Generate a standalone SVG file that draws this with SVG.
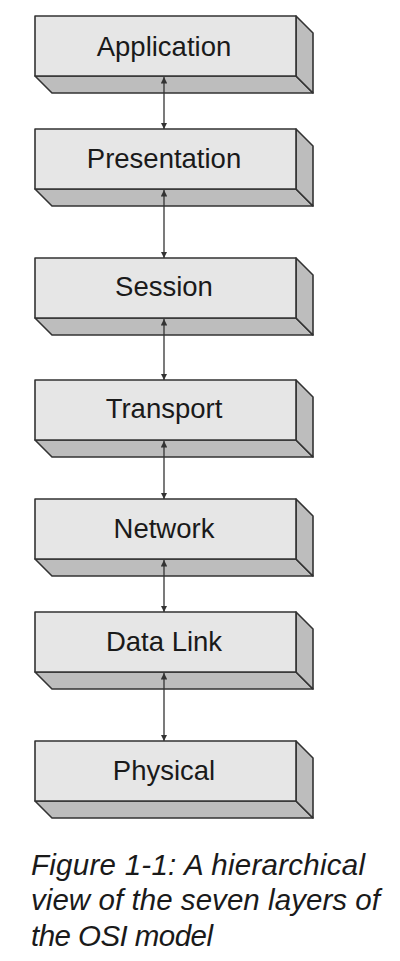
<svg xmlns="http://www.w3.org/2000/svg" width="400" height="961" viewBox="0 0 400 961">
<defs>
<style>
.front{fill:#e6e6e6;stroke:#333;stroke-width:1.6;stroke-linejoin:round}
.shade{fill:#bdbdbd;stroke:#333;stroke-width:1.6;stroke-linejoin:round}
.lbl{font-family:"Liberation Sans",Arial,sans-serif;font-size:27.5px;fill:#1a1a1a;text-anchor:middle}
.cap{font-family:"Liberation Sans",Arial,sans-serif;font-style:italic;font-size:29.5px;fill:#1a1a1a}
.conn{stroke:#333;stroke-width:1.3;fill:none;marker-start:url(#ah);marker-end:url(#ah)}
</style>
<marker id="ah" viewBox="0 0 10 10" refX="10" refY="5" markerWidth="6.5" markerHeight="6.5" markerUnits="userSpaceOnUse" orient="auto-start-reverse">
<path d="M0,0 L10,5 L0,10 z" fill="#333"/>
</marker>
</defs>
<rect width="400" height="961" fill="#fff"/>

<g id="application">
<polygon class="shade" points="35,76 296,76 313,93 52,93"/>
<polygon class="shade" points="296,16 313,33 313,93 296,76"/>
<rect class="front" x="35" y="16" width="261" height="60"/>
<text class="lbl" x="164" y="56">Application</text>
</g>
<g id="presentation">
<polygon class="shade" points="35,189 296,189 313,206 52,206"/>
<polygon class="shade" points="296,129 313,146 313,206 296,189"/>
<rect class="front" x="35" y="129" width="261" height="60"/>
<text class="lbl" x="164" y="168">Presentation</text>
</g>
<g id="session">
<polygon class="shade" points="35,318 296,318 313,335 52,335"/>
<polygon class="shade" points="296,258 313,275 313,335 296,318"/>
<rect class="front" x="35" y="258" width="261" height="60"/>
<text class="lbl" x="164" y="296">Session</text>
</g>
<g id="transport">
<polygon class="shade" points="35,440 296,440 313,457 52,457"/>
<polygon class="shade" points="296,380 313,397 313,457 296,440"/>
<rect class="front" x="35" y="380" width="261" height="60"/>
<text class="lbl" x="164" y="418">Transport</text>
</g>
<g id="network">
<polygon class="shade" points="35,559 296,559 313,576 52,576"/>
<polygon class="shade" points="296,499 313,516 313,576 296,559"/>
<rect class="front" x="35" y="499" width="261" height="60"/>
<text class="lbl" x="164" y="538">Network</text>
</g>
<g id="datalink">
<polygon class="shade" points="35,672 296,672 313,689 52,689"/>
<polygon class="shade" points="296,612 313,629 313,689 296,672"/>
<rect class="front" x="35" y="612" width="261" height="60"/>
<text class="lbl" x="164" y="651">Data Link</text>
</g>
<g id="physical">
<polygon class="shade" points="35,801 296,801 313,818 52,818"/>
<polygon class="shade" points="296,741 313,758 313,818 296,801"/>
<rect class="front" x="35" y="741" width="261" height="60"/>
<text class="lbl" x="164" y="780">Physical</text>
</g>

<g id="connectors">
<line class="conn" x1="164" y1="77" x2="164" y2="129"/>
<line class="conn" x1="164" y1="190" x2="164" y2="258"/>
<line class="conn" x1="164" y1="319" x2="164" y2="380"/>
<line class="conn" x1="164" y1="441" x2="164" y2="499"/>
<line class="conn" x1="164" y1="560" x2="164" y2="612"/>
<line class="conn" x1="164" y1="673" x2="164" y2="741"/>
</g>

<g id="caption">
<text class="cap" x="31" y="875" textLength="334">Figure 1-1: A hierarchical</text>
<text class="cap" x="31" y="910" textLength="349">view of the seven layers of</text>
<text class="cap" x="31" y="946" textLength="182">the OSI model</text>
</g>
</svg>
